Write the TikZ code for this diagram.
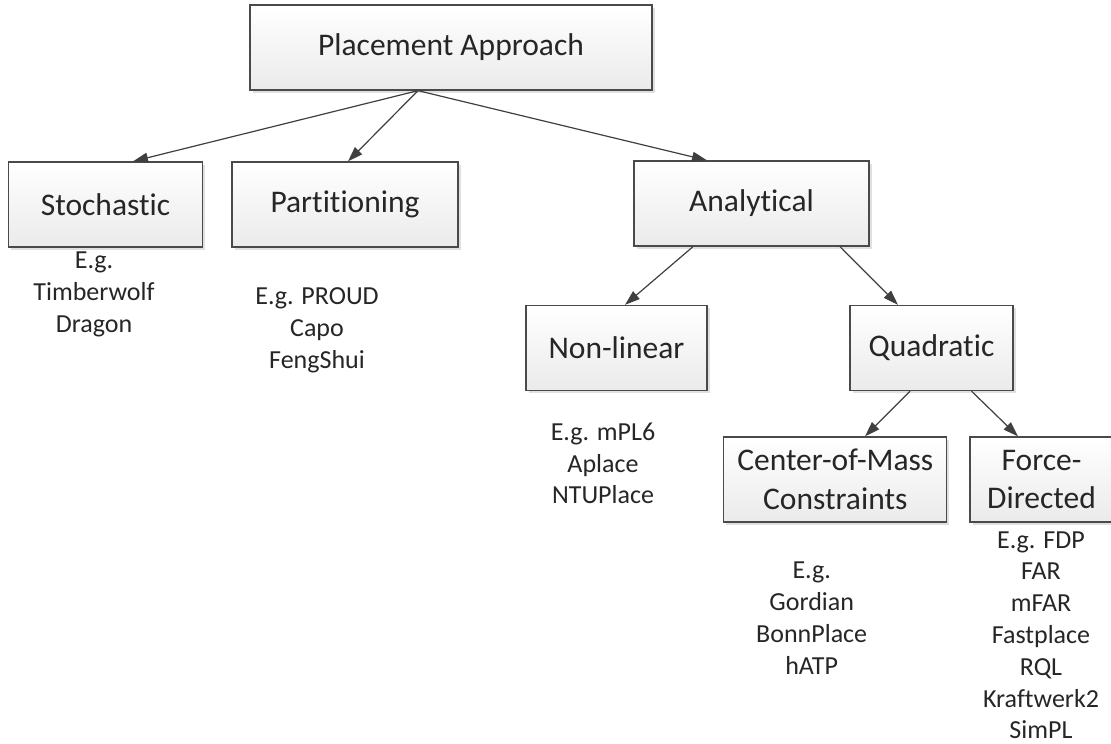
\documentclass[tikz,border=0pt]{standalone}
\usepackage{fontspec}
\setmainfont{Carlito}[Ligatures={NoCommon}]
\usetikzlibrary{arrows.meta,shadows}
\definecolor{boxline}{HTML}{4A4A4A}
\definecolor{txt}{HTML}{262626}
\definecolor{arr}{HTML}{404040}
\tikzset{
  box/.style={draw=boxline, line width=1.3pt, top color=white, bottom color=black!8,
    drop shadow={shadow xshift=2.5pt, shadow yshift=-2.5pt, fill=black, opacity=0.12},
    minimum height=85pt, inner sep=0pt, align=center, text=txt,
    font=\fontsize{31.5}{38.4}\selectfont},
  note/.style={anchor=north, align=center, inner sep=0pt, text=txt,
    font=\fontsize{26}{31.8}\selectfont},
  link/.style={draw=arr, line width=1.2pt, -{Triangle[length=15pt,width=10pt]}}
}
\begin{document}
\begin{tikzpicture}[x=1pt,y=-1pt]
\useasboundingbox[fill=white] (0,0) rectangle (1111,744);
\node[box, minimum width=402pt] (pa) at (451,47.5) {Placement Approach};
\node[box, minimum width=194pt] (st) at (105.5,204.5) {Stochastic};
\node[box, minimum width=226pt] (pt) at (345,204.5) {Partitioning};
\node[box, minimum width=235pt] (an) at (751.5,203.5) {Analytical};
\node[box, minimum width=181pt] (nl) at (616.5,348) {Non-linear};
\node[box, minimum width=163pt] (qu) at (931.5,348) {Quadratic};
\node[box, minimum width=223pt] (cm) at (835.3,479.5) {Center-of-Mass\\Constraints};
\node[box, minimum width=143pt] (fd) at (1041.5,479.5) {Force-\\Directed};

\node[note] (stn) at (94,251.6) {E.g.\\Timberwolf\\Dragon};
\node[note] (ptn) at (317,287.6) {E.g. PROUD\\Capo\\FengShui};
\node[note] (nln) at (603,422.6) {E.g. mPL6\\Aplace\\NTUPlace};
\node[note] (cmn) at (811.7,562) {E.g.\\Gordian\\BonnPlace\\hATP};
\node[note] (fdn) at (1041,531.3) {E.g. FDP\\FAR\\mFAR\\Fastplace\\RQL\\Kraftwerk2\\SimPL};

\draw[link] ([xshift=-33pt]pa.south) -- ([xshift=27.5pt]st.north);
\draw[link] ([xshift=-33pt]pa.south) -- ([xshift=3pt]pt.north);
\draw[link] ([xshift=-33pt]pa.south) -- ([xshift=-44.5pt]an.north);
\draw[link] ([xshift=-58.5pt]an.south) -- ([xshift=8.5pt]nl.north);
\draw[link] ([xshift=88.5pt]an.south) -- ([xshift=-33.5pt]qu.north);
\draw[link] ([xshift=-21.5pt]qu.south) -- ([xshift=29.7pt]cm.north);
\draw[link] ([xshift=40pt]qu.south) -- ([xshift=-23.5pt]fd.north);
\end{tikzpicture}
\end{document}
